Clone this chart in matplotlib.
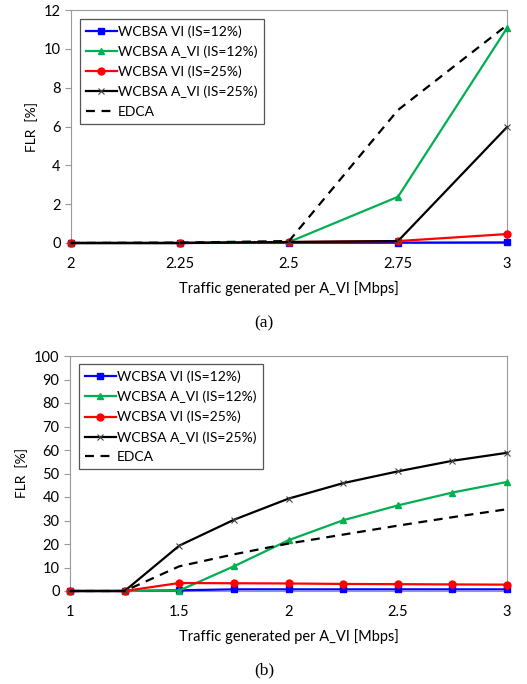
import matplotlib
matplotlib.use("Agg")
import matplotlib.pyplot as plt

plt.rcParams['font.family'] = ['Lato', 'DejaVu Sans']

# (a) traffic 2..3 Mbps
x_a = [2, 2.25, 2.5, 2.75, 3]
vi12_a = [0, 0, 0.02, 0.02, 0.03]
avi12_a = [0, 0, 0.05, 2.38, 11.07]
vi25_a = [0, 0, 0.05, 0.1, 0.46]
avi25_a = [0, 0, 0.05, 0.1, 5.97]
edca_a = [0, 0.02, 0.1, 6.85, 11.22]

# (b) traffic 1..3 Mbps
x_b = [1, 1.25, 1.5, 1.75, 2, 2.25, 2.5, 2.75, 3]
vi12_b = [0, 0, 0.3, 0.7, 0.7, 0.7, 0.7, 0.7, 0.7]
avi12_b = [0, 0, 0.2, 10.5, 21.6, 30.1, 36.4, 41.9, 46.4]
vi25_b = [0, 0, 3.4, 3.3, 3.2, 3.0, 2.9, 2.8, 2.7]
avi25_b = [0, 0, 19.3, 30.3, 39.3, 45.9, 50.9, 55.4, 58.8]
edca_b = [0, 0, 10.5, 15.6, 20.2, 24.0, 27.8, 31.4, 34.8]

labels = ['WCBSA VI (IS=12%)', 'WCBSA A_VI (IS=12%)', 'WCBSA VI (IS=25%)',
          'WCBSA A_VI (IS=25%)', 'EDCA']

fs = 10.5


def draw(ax, x, vi12, avi12, vi25, avi25, edca, top):
    ax.plot(x, vi12, color='#0000ff', marker='s', ms=5, lw=1.6, label=labels[0], clip_on=False, zorder=3)
    ax.plot(x, avi12, color='#00b050', marker='^', ms=5, lw=1.6, label=labels[1], clip_on=False, zorder=3)
    ax.plot(x, vi25, color='#ff0000', marker='o', ms=5, lw=1.6, label=labels[2], clip_on=False, zorder=3)
    ax.plot(x, avi25, color='black', marker='x', ms=5, mew=0.8, mec='#444444', lw=1.6, label=labels[3], clip_on=False, zorder=3)
    ax.plot(x, edca, color='black', ls=(0, (4, 3)), lw=1.6, label=labels[4], clip_on=False, zorder=3)
    for s in ax.spines.values():
        s.set_color('#999999')
    ax.tick_params(axis='both', colors='#999999', labelcolor='black', labelsize=fs, length=4)
    ax.tick_params(axis='x', length=0, pad=10)
    ax.set_ylabel('FLR  [%]', fontsize=fs - 0.5)
    ax.set_xlabel('Traffic generated per A_VI [Mbps]', fontsize=fs, labelpad=7)
    leg = ax.legend(loc='upper left', bbox_to_anchor=(0.02, top), borderaxespad=0, fontsize=10,
                    fancybox=False, framealpha=1, edgecolor='#555555',
                    handlelength=2.2, handletextpad=0.1, borderpad=0.45, labelspacing=0.55)
    leg.get_frame().set_linewidth(0.9)


fig = plt.figure(figsize=(5.27, 6.84), dpi=100)
ax1 = fig.add_axes([71 / 527, 1 - 243 / 684, 436 / 527, 233 / 684])
ax2 = fig.add_axes([70 / 527, 1 - 591 / 684, 437 / 527, 235 / 684])

draw(ax1, x_a, vi12_a, avi12_a, vi25_a, avi25_a, edca_a, 0.962)
ax1.set_xlim(2, 3)
ax1.set_ylim(0, 12)
ax1.set_xticks(x_a)
ax1.set_xticklabels(['2', '2.25', '2.5', '2.75', '3'])
ax1.set_yticks(range(0, 13, 2))

draw(ax2, x_b, vi12_b, avi12_b, vi25_b, avi25_b, edca_b, 0.965)
ax2.set_xlim(1, 3)
ax2.set_ylim(0, 100)
ax2.set_xticks([1, 1.5, 2, 2.5, 3])
ax2.set_xticklabels(['1', '1.5', '2', '2.5', '3'])
ax2.set_yticks(range(0, 101, 10))

fig.text(264 / 527, 1 - 323 / 684, '(a)', ha='center', va='center', fontsize=12.5, family='Liberation Serif')
fig.text(264 / 527, 1 - 670 / 684, '(b)', ha='center', va='center', fontsize=12.5, family='Liberation Serif')

fig.savefig('out.png', dpi=100)
